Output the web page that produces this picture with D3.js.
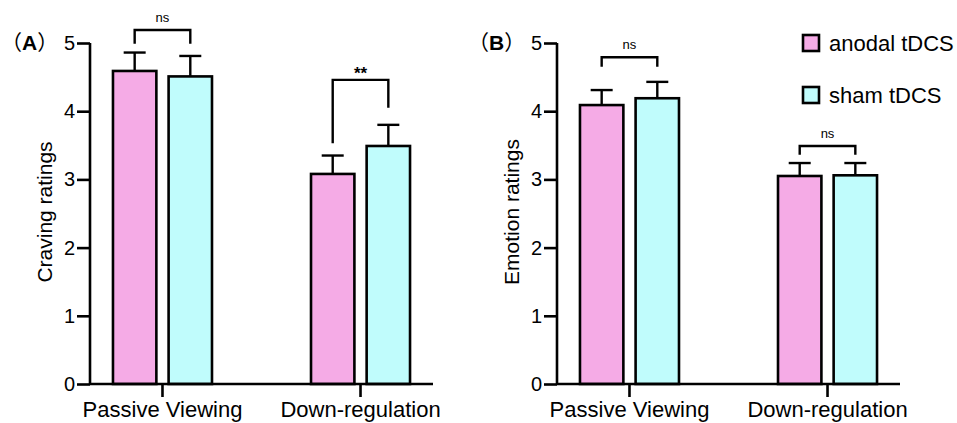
<!DOCTYPE html>
<html>
<head>
  <meta charset="utf-8">
  <script src="https://d3js.org/d3.v7.min.js"></script>
</head>
<style>
body { margin: 0; background: #fff; }
text { font-family: "Liberation Sans", Arial, sans-serif; fill: #000; }
.axis path, .axis line { stroke: #000; stroke-width: 2.6; }
</style>
<body>
  <svg id="chart"></svg>
</body>
<script>
  var w = 957;
  var h = 423;

  // data
  var groups = ["Passive Viewing", "Down-regulation"];
  var series = ["anodal tDCS", "sham tDCS"];
  var colors = ["#f5abe6", "#c0fcfc"];
  var yTicks = [0, 1, 2, 3, 4, 5];

  // panel A: craving ratings (mean, upper error)
  var cravingAnodal = [4.59, 3.08];
  var cravingSham   = [4.51, 3.49];
  var cravingAnodalErr = [0.27, 0.27];
  var cravingShamErr   = [0.30, 0.31];

  // panel B: emotion ratings
  var emotionAnodal = [4.09, 3.05];
  var emotionSham   = [4.19, 3.06];
  var emotionAnodalErr = [0.22, 0.19];
  var emotionShamErr   = [0.24, 0.18];

  // significance brackets: label, bracket level, leg ends (rating units)
  var cravingSig = [
    {label: "ns", level: 5.19, left: 4.99, right: 4.99},
    {label: "**", level: 4.46, left: 3.53, right: 4.05}
  ];
  var emotionSig = [
    {label: "ns", level: 4.79, left: 4.65, right: 4.65},
    {label: "ns", level: 3.49, left: 3.36, right: 3.36}
  ];

  var svg = d3.select("#chart").attr("width", w).attr("height", h);

  var y = d3.scaleLinear().domain([0, 5]).range([384, 43]);

  function drawPanel(x0, letter, ylabel, anodal, sham, anodalErr, shamErr, sig) {
    var g = svg.append("g").attr("transform", "translate(" + x0 + ",0)");

    var x = d3.scaleBand().domain(groups).range([0, 343])
      .paddingInner(0.5).paddingOuter(0.116);
    var xs = d3.scaleBand().domain(series).range([0, x.bandwidth()])
      .paddingInner(0.22);

    var rows = [];
    groups.forEach(function(grp, i) {
      rows.push({g: grp, s: series[0], v: anodal[i], e: anodalErr[i], c: colors[0]});
      rows.push({g: grp, s: series[1], v: sham[i], e: shamErr[i], c: colors[1]});
    });

    // bars
    g.selectAll("rect.bar")
      .data(rows)
      .enter().append("rect")
      .attr("class", "bar")
      .attr("x", function(d) { return x(d.g) + xs(d.s); })
      .attr("y", function(d) { return y(d.v); })
      .attr("width", xs.bandwidth())
      .attr("height", function(d) { return y(0) - y(d.v); })
      .attr("fill", function(d) { return d.c; })
      .attr("stroke", "#000")
      .attr("stroke-width", 2.6);

    // error bars (upper only)
    var cx = function(d) { return x(d.g) + xs(d.s) + xs.bandwidth() / 2; };
    g.selectAll("line.err")
      .data(rows)
      .enter().append("line")
      .attr("x1", cx).attr("x2", cx)
      .attr("y1", function(d) { return y(d.v); })
      .attr("y2", function(d) { return y(d.v + d.e); })
      .attr("stroke", "#000").attr("stroke-width", 2.4);
    g.selectAll("line.cap")
      .data(rows)
      .enter().append("line")
      .attr("x1", function(d) { return cx(d) - 11; })
      .attr("x2", function(d) { return cx(d) + 11; })
      .attr("y1", function(d) { return y(d.v + d.e); })
      .attr("y2", function(d) { return y(d.v + d.e); })
      .attr("stroke", "#000").attr("stroke-width", 2.4);

    // axes
    g.append("g").attr("class", "axis")
      .call(d3.axisLeft(y).tickValues(yTicks).tickSize(13).tickPadding(2).tickFormat(d3.format("d")))
      .call(function(a) { a.select(".domain").attr("d", "M0," + y(0) + "V" + y(5)); })
      .selectAll("text").style("font-size", "20px").style("font-family", "Liberation Sans, Arial");

    g.append("g").attr("class", "axis")
      .attr("transform", "translate(0," + y(0) + ")")
      .call(d3.axisBottom(x).tickSize(13).tickPadding(4))
      .call(function(a) { a.select(".domain").attr("d", "M0,0H343"); })
      .selectAll("text").style("font-size", "22px").style("font-family", "Liberation Sans, Arial");

    // y label
    g.append("text")
      .attr("transform", "translate(-38," + 212 + ") rotate(-90)")
      .attr("text-anchor", "middle")
      .style("font-size", "21px")
      .text(ylabel);

    // panel letter
    var t = g.append("text").attr("x", -89).attr("y", 50).style("font-size", "21px");
    t.append("tspan").style("font-family", "Noto Sans CJK SC").text("（");
    t.append("tspan").style("font-weight", "bold").text(letter);
    t.append("tspan").style("font-family", "Noto Sans CJK SC").text("）");

    // significance brackets
    sig.forEach(function(s, i) {
      var xl = x(groups[i]) + xs(series[0]) + xs.bandwidth() / 2;
      var xr = x(groups[i]) + xs(series[1]) + xs.bandwidth() / 2;
      g.append("path")
        .attr("d", "M" + xl + "," + y(s.left) + "V" + y(s.level) + "H" + xr + "V" + y(s.right))
        .attr("fill", "none").attr("stroke", "#000").attr("stroke-width", 2.4);
      var star = s.label !== "ns";
      g.append("text")
        .attr("x", (xl + xr) / 2)
        .attr("y", y(s.level) - (star ? 1 : 8))
        .attr("text-anchor", "middle")
        .style("font-size", star ? "17px" : "13px")
        .style("font-weight", star ? "bold" : "normal")
        .text(s.label);
    });
  }

  drawPanel(90, "A", "Craving ratings", cravingAnodal, cravingSham, cravingAnodalErr, cravingShamErr, cravingSig);
  drawPanel(557, "B", "Emotion ratings", emotionAnodal, emotionSham, emotionAnodalErr, emotionShamErr, emotionSig);

  // legend
  var legend = svg.append("g").attr("transform", "translate(803,35)");
  series.forEach(function(s, i) {
    legend.append("rect")
      .attr("x", 0).attr("y", i * 52)
      .attr("width", 16).attr("height", 16)
      .attr("fill", colors[i]).attr("stroke", "#000").attr("stroke-width", 2.6);
    legend.append("text")
      .attr("x", 26).attr("y", i * 52 + 16)
      .style("font-size", "22px")
      .text(s);
  });
</script>
</html>
